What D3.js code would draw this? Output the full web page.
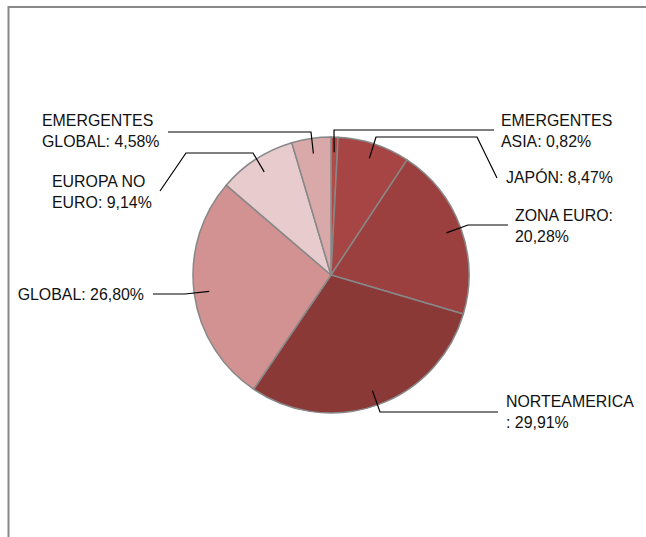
<!DOCTYPE html>
<html>
<head>
<meta charset="utf-8">
<script src="https://cdn.jsdelivr.net/npm/d3@7"></script>
<style>
  body { margin: 0; background: #fff; }
  text { font-family: "Liberation Sans", Arial, sans-serif; font-size: 15.9px; fill: #111; }
</style>
</head>
<body>
<script>
// datos del grafico (orden horario desde las 12)
var categorias = ["EMERGENTES ASIA", "JAPÓN", "ZONA EURO", "NORTEAMERICA", "GLOBAL", "EUROPA NO EURO", "EMERGENTES GLOBAL"];
var valores = [0.82, 8.47, 20.28, 29.91, 26.80, 9.14, 4.58];
var etiquetas = [
  ["EMERGENTES", "ASIA: 0,82%"],
  ["JAPÓN: 8,47%"],
  ["ZONA EURO:", "20,28%"],
  ["NORTEAMERICA", ": 29,91%"],
  ["GLOBAL: 26,80%"],
  ["EUROPA NO", "EURO: 9,14%"],
  ["EMERGENTES", "GLOBAL: 4,58%"]
];
var colores = ["#b24a48", "#a64543", "#9b403e", "#8b3937", "#d29291", "#e8cbcc", "#d9a9a9"];

// posiciones de las etiquetas y codos de las lineas guia
var layout = [
  {pts: [[334, 130], [494, 130]], tx: 501, ty: 126, anchor: "start"},
  {pts: [[376, 137], [477, 137], [497, 178]], tx: 506, ty: 183, anchor: "start"},
  {pts: [[468, 225], [508, 225]], tx: 515, ty: 221, anchor: "start"},
  {pts: [[380, 412], [498, 412]], tx: 506, ty: 407, anchor: "start"},
  {pts: [[185, 294], [153, 294]], tx: 144, ty: 300, anchor: "end"},
  {pts: [[253, 153], [186, 153], [160, 191]], tx: 52, ty: 187, anchor: "start"},
  {pts: [[311, 132], [168, 132]], tx: 42, ty: 126, anchor: "start"}
];

var width = 646, height = 537;
var cx = 331, cy = 275, radio = 138;

var svg = d3.select("body").append("svg")
    .attr("width", width)
    .attr("height", height);

// marco
svg.append("path")
    .attr("d", "M646,7 H8.5 V537")
    .attr("fill", "none")
    .attr("stroke", "#888")
    .attr("stroke-width", 2);

var pie = d3.pie().sort(null).value(function(d) { return d; });
var arcos = pie(valores);

var arc = d3.arc().innerRadius(0).outerRadius(radio);
var arcGuia = d3.arc().innerRadius(radio * 0.89).outerRadius(radio * 0.89);

var g = svg.append("g")
    .attr("transform", "translate(" + cx + "," + cy + ")");

g.selectAll("path.slice")
    .data(arcos)
  .enter().append("path")
    .attr("class", "slice")
    .attr("d", arc)
    .attr("fill", function(d, i) { return colores[i]; })
    .attr("stroke", "#888")
    .attr("stroke-width", 1.5)
    .attr("stroke-linejoin", "round");

var linea = d3.line();

arcos.forEach(function(d, i) {
    var c = arcGuia.centroid(d);
    var pts = [[cx + c[0], cy + c[1]]].concat(layout[i].pts);
    svg.append("path")
        .attr("d", linea(pts))
        .attr("fill", "none")
        .attr("stroke", "#000")
        .attr("stroke-width", 1.2);

    var t = svg.append("text")
        .attr("x", layout[i].tx)
        .attr("y", layout[i].ty)
        .attr("text-anchor", layout[i].anchor);
    etiquetas[i].forEach(function(l, j) {
        t.append("tspan")
            .attr("x", layout[i].tx)
            .attr("y", layout[i].ty + j * 21)
            .text(l);
    });
});
</script>
</body>
</html>
